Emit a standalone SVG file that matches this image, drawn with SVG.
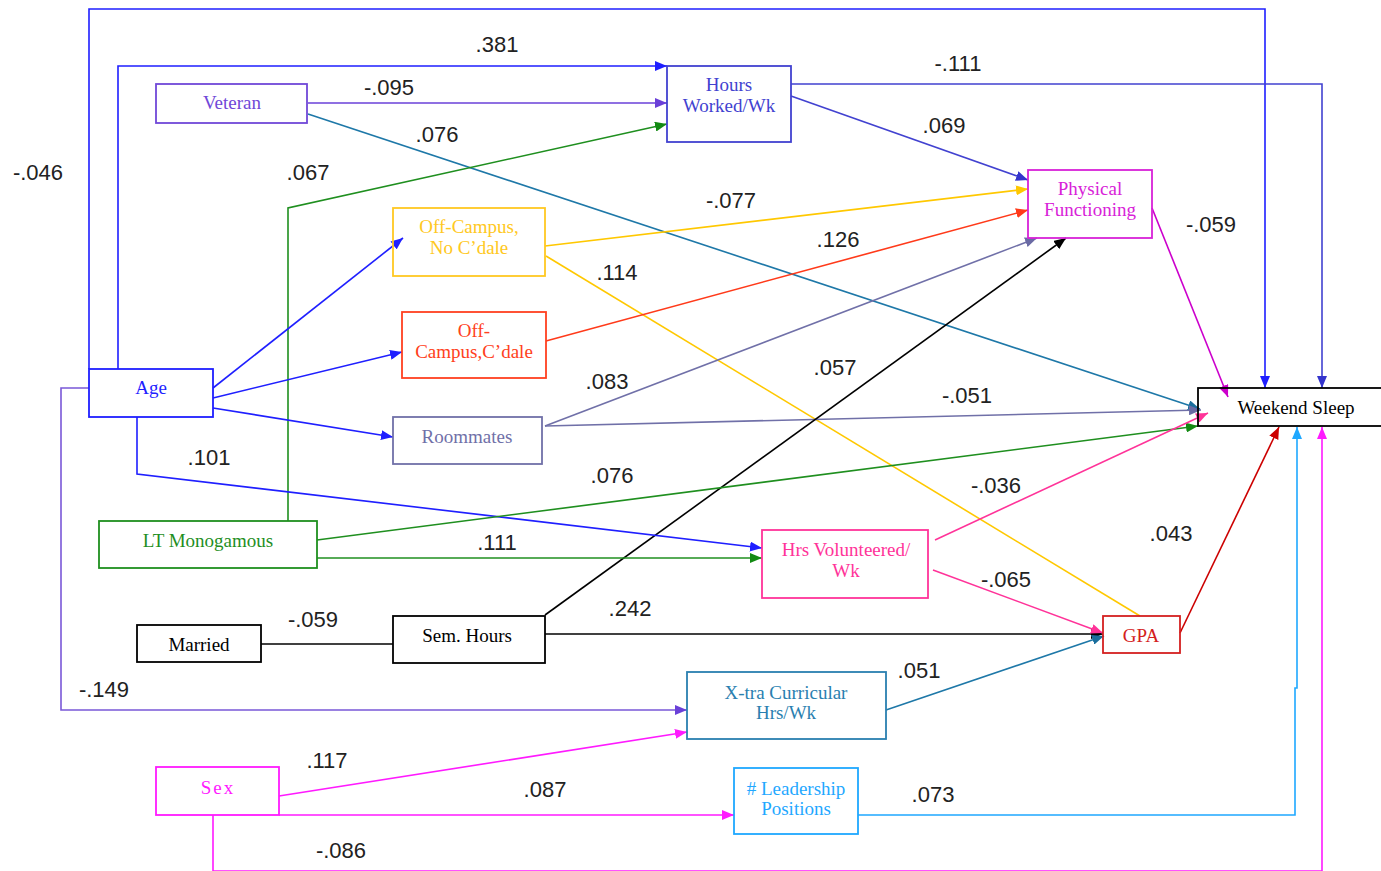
<svg xmlns="http://www.w3.org/2000/svg" width="1381" height="871" viewBox="0 0 1381 871">
<style>
.bx{fill:none;stroke-width:1.8}
.nt{font-family:"Liberation Serif","Times New Roman",serif;font-size:19px;text-anchor:middle}
.lb{font-family:"Liberation Sans",Arial,sans-serif;font-size:22px;text-anchor:middle;fill:#222}
.c{fill:none;stroke-width:1.6}
</style>
<defs>
<marker id="m-blue" viewBox="0 0 12 10" refX="12" refY="5" markerWidth="12" markerHeight="10" markerUnits="userSpaceOnUse" orient="auto"><path d="M0,0 L12,5 L0,10 z" fill="#1f1fff"/></marker>
<marker id="m-purple" viewBox="0 0 12 10" refX="12" refY="5" markerWidth="12" markerHeight="10" markerUnits="userSpaceOnUse" orient="auto"><path d="M0,0 L12,5 L0,10 z" fill="#6a40d8"/></marker>
<marker id="m-hw" viewBox="0 0 12 10" refX="12" refY="5" markerWidth="12" markerHeight="10" markerUnits="userSpaceOnUse" orient="auto"><path d="M0,0 L12,5 L0,10 z" fill="#3434cc"/></marker>
<marker id="m-teal" viewBox="0 0 12 10" refX="12" refY="5" markerWidth="12" markerHeight="10" markerUnits="userSpaceOnUse" orient="auto"><path d="M0,0 L12,5 L0,10 z" fill="#1a6e9c"/></marker>
<marker id="m-green" viewBox="0 0 12 10" refX="12" refY="5" markerWidth="12" markerHeight="10" markerUnits="userSpaceOnUse" orient="auto"><path d="M0,0 L12,5 L0,10 z" fill="#138a13"/></marker>
<marker id="m-yellow" viewBox="0 0 12 10" refX="12" refY="5" markerWidth="12" markerHeight="10" markerUnits="userSpaceOnUse" orient="auto"><path d="M0,0 L12,5 L0,10 z" fill="#ffc800"/></marker>
<marker id="m-orange" viewBox="0 0 12 10" refX="12" refY="5" markerWidth="12" markerHeight="10" markerUnits="userSpaceOnUse" orient="auto"><path d="M0,0 L12,5 L0,10 z" fill="#ff3a1a"/></marker>
<marker id="m-slate" viewBox="0 0 12 10" refX="12" refY="5" markerWidth="12" markerHeight="10" markerUnits="userSpaceOnUse" orient="auto"><path d="M0,0 L12,5 L0,10 z" fill="#6a6aa4"/></marker>
<marker id="m-black" viewBox="0 0 12 10" refX="12" refY="5" markerWidth="12" markerHeight="10" markerUnits="userSpaceOnUse" orient="auto"><path d="M0,0 L12,5 L0,10 z" fill="#000"/></marker>
<marker id="m-pink" viewBox="0 0 12 10" refX="12" refY="5" markerWidth="12" markerHeight="10" markerUnits="userSpaceOnUse" orient="auto"><path d="M0,0 L12,5 L0,10 z" fill="#ff3399"/></marker>
<marker id="m-red" viewBox="0 0 12 10" refX="12" refY="5" markerWidth="12" markerHeight="10" markerUnits="userSpaceOnUse" orient="auto"><path d="M0,0 L12,5 L0,10 z" fill="#cc0000"/></marker>
<marker id="m-pf" viewBox="0 0 12 10" refX="12" refY="5" markerWidth="12" markerHeight="10" markerUnits="userSpaceOnUse" orient="auto"><path d="M0,0 L12,5 L0,10 z" fill="#cc00cc"/></marker>
<marker id="m-mag" viewBox="0 0 12 10" refX="12" refY="5" markerWidth="12" markerHeight="10" markerUnits="userSpaceOnUse" orient="auto"><path d="M0,0 L12,5 L0,10 z" fill="#ff1aff"/></marker>
<marker id="m-lblue" viewBox="0 0 12 10" refX="12" refY="5" markerWidth="12" markerHeight="10" markerUnits="userSpaceOnUse" orient="auto"><path d="M0,0 L12,5 L0,10 z" fill="#1fa8ff"/></marker>
</defs>
<rect width="1381" height="871" fill="#fff"/>
<g id="connectors">
<path class="c" stroke="#1f1fff" d="M89,369 V9 H1265 V388" marker-end="url(#m-blue)"/>
<path class="c" stroke="#1f1fff" d="M118,369 V66 H667" marker-end="url(#m-blue)"/>
<path class="c" stroke="#6a40d8" d="M308,103 H667" marker-end="url(#m-purple)"/>
<path class="c" stroke="#1e78a8" d="M308,114 L1200,409" marker-end="url(#m-teal)"/>
<path class="c" stroke="#1f8f1f" d="M288,521 V208 L667,124" marker-end="url(#m-green)"/>
<path class="c" stroke="#4242d0" d="M791,84 H1322 V388" marker-end="url(#m-hw)"/>
<path class="c" stroke="#4242d0" d="M791,96 L1028,180" marker-end="url(#m-hw)"/>
<path class="c" stroke="#1f1fff" d="M213,388 L403,238" marker-end="url(#m-blue)"/>
<path class="c" stroke="#1f1fff" d="M213,398 L402,352" marker-end="url(#m-blue)"/>
<path class="c" stroke="#1f1fff" d="M213,408 L393,437" marker-end="url(#m-blue)"/>
<path class="c" stroke="#ffc800" d="M545,246 L1028,189" marker-end="url(#m-yellow)"/>
<path class="c" stroke="#ffc800" d="M546,256 L1140,616"/>
<path class="c" stroke="#ff3a1a" d="M546,341 L1028,210" marker-end="url(#m-orange)"/>
<path class="c" stroke="#7070a8" d="M545,426 L1037,238" marker-end="url(#m-slate)"/>
<path class="c" stroke="#7070a8" d="M545,426 L1201,410" marker-end="url(#m-slate)"/>
<path class="c" stroke="#000" d="M545,615 L1066,238" marker-end="url(#m-black)"/>
<path class="c" stroke="#000" d="M545,634 H1103" marker-end="url(#m-black)"/>
<path class="c" stroke="#000" d="M261,644 H393"/>
<path class="c" stroke="#1f1fff" d="M137,417 V474 L762,548" marker-end="url(#m-blue)"/>
<path class="c" stroke="#1f8f1f" d="M317,540 L1198,426" marker-end="url(#m-green)"/>
<path class="c" stroke="#1f8f1f" d="M317,558 H762" marker-end="url(#m-green)"/>
<path class="c" stroke="#ff3399" d="M935,540 L1208,413" marker-end="url(#m-pink)"/>
<path class="c" stroke="#ff3399" d="M933,570 L1103,633" marker-end="url(#m-pink)"/>
<path class="c" stroke="#cc0000" d="M1180,633 L1279,427" marker-end="url(#m-red)"/>
<path class="c" stroke="#cc00cc" d="M1152,208 L1228,397" marker-end="url(#m-pf)"/>
<path class="c" stroke="#7a58d8" d="M89,388 H61 V710 H687" marker-end="url(#m-purple)"/>
<path class="c" stroke="#1e78a8" d="M886,710 L1104,636" marker-end="url(#m-teal)"/>
<path class="c" stroke="#ff1aff" d="M279,796 L687,732" marker-end="url(#m-mag)"/>
<path class="c" stroke="#ff1aff" d="M279,815 H734" marker-end="url(#m-mag)"/>
<path class="c" stroke="#1fa8ff" d="M858,815 H1295 V688 H1297 V427" marker-end="url(#m-lblue)"/>
<path class="c" stroke="#ff1aff" d="M213,815 V871 H1322 V427" marker-end="url(#m-mag)"/>
</g>
<g id="node-veteran"><rect class="bx" stroke="#7048d8" x="156" y="84" width="151" height="39"/><text class="nt" fill="#7048d8" x="232" y="109">Veteran</text></g>
<g id="node-hours-worked"><rect class="bx" stroke="#4242d0" x="667" y="66" width="124" height="76"/><text class="nt" fill="#4242d0" x="729" y="91">Hours</text><text class="nt" fill="#4242d0" x="729" y="112">Worked/Wk</text></g>
<g id="node-physical-functioning"><rect class="bx" stroke="#d822d8" x="1028" y="170" width="124" height="68"/><text class="nt" fill="#d822d8" x="1090" y="195">Physical</text><text class="nt" fill="#d822d8" x="1090" y="216">Functioning</text></g>
<g id="node-offcampus-no"><rect class="bx" stroke="#ffc822" x="393" y="208" width="152" height="68"/><text class="nt" fill="#ffc822" x="469" y="233">Off-Campus,</text><text class="nt" fill="#ffc822" x="469" y="254">No C’dale</text></g>
<g id="node-offcampus-cdale"><rect class="bx" stroke="#ff4020" x="402" y="312" width="144" height="66"/><text class="nt" fill="#ff4020" x="474" y="337">Off-</text><text class="nt" fill="#ff4020" x="474" y="358">Campus,C’dale</text></g>
<g id="node-roommates"><rect class="bx" stroke="#7070a8" x="393" y="417" width="149" height="47"/><text class="nt" fill="#7070a8" x="467" y="443">Roommates</text></g>
<g id="node-age"><rect class="bx" stroke="#1f1fff" x="89" y="369" width="124" height="48"/><text class="nt" fill="#1f1fff" x="151" y="394">Age</text></g>
<g id="node-weekend-sleep"><rect class="bx" stroke="#000" x="1198" y="388" width="200" height="38"/><text class="nt" fill="#000" x="1296" y="414">Weekend Sleep</text></g>
<g id="node-lt-monogamous"><rect class="bx" stroke="#1f8f1f" x="99" y="521" width="218" height="47"/><text class="nt" fill="#1f8f1f" x="208" y="547">LT Monogamous</text></g>
<g id="node-hrs-volunteered"><rect class="bx" stroke="#ff3399" x="762" y="530" width="166" height="68"/><text class="nt" fill="#ff3399" x="846" y="556">Hrs Volunteered/</text><text class="nt" fill="#ff3399" x="846" y="577">Wk</text></g>
<g id="node-married"><rect class="bx" stroke="#000" x="137" y="625" width="124" height="37"/><text class="nt" fill="#000" x="199" y="651">Married</text></g>
<g id="node-sem-hours"><rect class="bx" stroke="#000" x="393" y="616" width="152" height="47"/><text class="nt" fill="#000" x="467" y="642">Sem. Hours</text></g>
<g id="node-gpa"><rect class="bx" stroke="#d42020" x="1103" y="616" width="77" height="37"/><text class="nt" fill="#d42020" x="1141" y="642">GPA</text></g>
<g id="node-xtra-curricular"><rect class="bx" stroke="#2a7fb0" x="687" y="672" width="199" height="67"/><text class="nt" fill="#2a7fb0" x="786" y="699">X-tra Curricular</text><text class="nt" fill="#2a7fb0" x="786" y="719">Hrs/Wk</text></g>
<g id="node-sex"><rect class="bx" stroke="#ff1aff" x="156" y="767" width="123" height="48"/><text class="nt" fill="#ff1aff" x="218" y="794" letter-spacing="2">Sex</text></g>
<g id="node-leadership"><rect class="bx" stroke="#1fa8ff" x="734" y="768" width="124" height="66"/><text class="nt" fill="#1fa8ff" x="796" y="795"># Leadership</text><text class="nt" fill="#1fa8ff" x="796" y="815">Positions</text></g>
<g id="labels">
<text class="lb" x="38" y="180">-.046</text>
<text class="lb" x="497" y="52">.381</text>
<text class="lb" x="389" y="95">-.095</text>
<text class="lb" x="437" y="142">.076</text>
<text class="lb" x="308" y="180">.067</text>
<text class="lb" x="958" y="71">-.111</text>
<text class="lb" x="944" y="133">.069</text>
<text class="lb" x="731" y="208">-.077</text>
<text class="lb" x="838" y="247">.126</text>
<text class="lb" x="617" y="280">.114</text>
<text class="lb" x="1211" y="232">-.059</text>
<text class="lb" x="607" y="389">.083</text>
<text class="lb" x="835" y="375">.057</text>
<text class="lb" x="967" y="403">-.051</text>
<text class="lb" x="209" y="465">.101</text>
<text class="lb" x="612" y="483">.076</text>
<text class="lb" x="996" y="493">-.036</text>
<text class="lb" x="1171" y="541">.043</text>
<text class="lb" x="497" y="550">.111</text>
<text class="lb" x="1006" y="587">-.065</text>
<text class="lb" x="630" y="616">.242</text>
<text class="lb" x="313" y="627">-.059</text>
<text class="lb" x="919" y="678">.051</text>
<text class="lb" x="104" y="697">-.149</text>
<text class="lb" x="327" y="768">.117</text>
<text class="lb" x="545" y="797">.087</text>
<text class="lb" x="933" y="802">.073</text>
<text class="lb" x="341" y="858">-.086</text>
</g>
</svg>
